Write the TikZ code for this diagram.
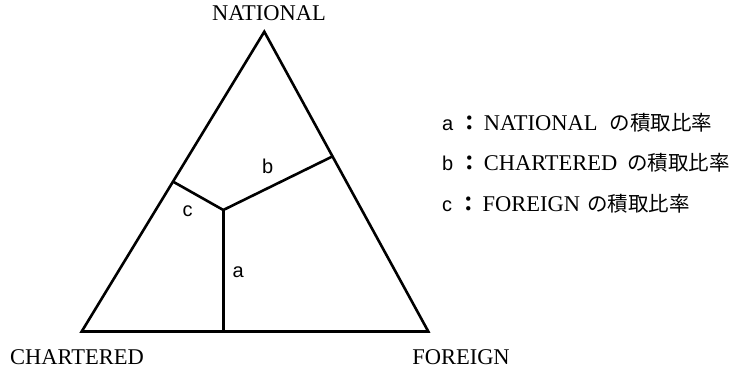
\documentclass[tikz,border=0pt]{standalone}
\usepackage{fontspec}
\setmainfont{Liberation Serif}
\setsansfont{Liberation Sans}
\newfontfamily\cjk{Noto Sans CJK JP}
\usetikzlibrary{calc,positioning}
\tikzset{
  edge/.style={line width=2.6pt,line join=miter},
  vertexlab/.style={font=\fontsize{22.5}{26}\selectfont,inner sep=0pt},
  arealab/.style={font=\sffamily\fontsize{20}{24}\selectfont,inner sep=0pt},
  keyrow/.style={anchor=west,inner sep=0pt,font=\fontsize{22.5}{26}\selectfont}
}
\newcommand{\jp}[1]{{\cjk\fontsize{20.5}{24}\selectfont #1}}
\newcommand{\keyletter}[1]{{\sffamily\fontsize{20}{24}\selectfont #1}\hspace{6pt}{\cjk\bfseries\fontsize{20.5}{24}\selectfont ：}\hspace{4pt}}

\begin{document}
\begin{tikzpicture}[x=1pt,y=-1pt]
  \useasboundingbox (0,0) rectangle (742,374);
  % corners of the triangle
  \coordinate (nat) at (264.3,31.7);
  \coordinate (cha) at (81.7,331.5);
  \coordinate (for) at (428.3,331.5);
  % dividing point and where its lines meet the sides
  \coordinate (mid) at (223.3,210);
  \coordinate (footl) at ($(cha)!0.5!(nat)$);
  \coordinate (footr) at ($(for)!0.584!(nat)$);
  \coordinate (footb) at (mid |- cha);

  \draw[edge] (nat) -- (cha) -- (for) -- cycle;
  \draw[edge] (footl) -- (mid) -- (footr);
  \draw[edge] (mid) -- (footb);

  \node[arealab] (la) at (238.3,272) {a};
  \node[arealab] (lb) at (267.7,166) {b};
  \node[arealab] (lc) at (187.7,211) {c};

  \node[vertexlab] (tnat) at (269,13.5) {NATIONAL};
  \node[vertexlab] (tcha) at (77,357) {CHARTERED};
  \node[vertexlab] (tfor) at (461,357) {FOREIGN};

  % key
  \node[keyrow] (keya) at (442,123) {\keyletter{a}NATIONAL\hspace{12pt}\jp{の積取比率}};
  \node[keyrow] (keyb) at (442,163) {\keyletter{b}CHARTERED\hspace{10pt}\jp{の積取比率}};
  \node[keyrow] (keyc) at (442,204) {\keyletter{c}FOREIGN\hspace{7pt}\jp{の積取比率}};
\end{tikzpicture}
\end{document}
